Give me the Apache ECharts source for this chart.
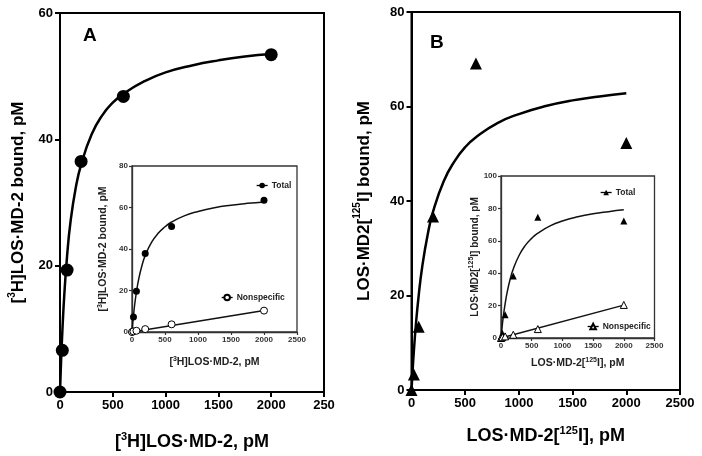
<!DOCTYPE html>
<html><head><meta charset="utf-8">
<script src="https://cdn.jsdelivr.net/npm/echarts@6/dist/echarts.min.js"></script>
<style>html,body{margin:0;padding:0;background:#fff}#c{width:702px;height:456px}</style>
</head><body><div id="c"></div>
<script>
// ---- Data ----
const conc = [0, 22, 67, 200, 600, 2000];
// Panel A main: specific binding
const boundA = [0, 6.6, 19.3, 36.5, 46.8, 53.4];
const fitX = [0, 10, 22, 40, 67, 100, 150, 200, 300, 400, 500, 600, 800, 1000, 1250, 1500, 1750, 2000];
const fitA = [0, 4.8, 9.5, 15.2, 21.5, 27.0, 32.4, 36.0, 40.8, 43.8, 45.8, 47.2, 49.2, 50.6, 51.7, 52.5, 53.1, 53.5];
// Panel B main: specific binding
const boundB = [0, 3.3, 13.4, 36.7, 69.1, 52.3];
const fitB = [0, 4.0, 8.2, 13.6, 20.0, 26.1, 32.8, 37.7, 44.2, 48.4, 51.4, 53.5, 56.5, 58.4, 60.1, 61.3, 62.1, 62.8];
// Inset A: total & nonspecific
const totalA = [0, 7.2, 19.6, 37.8, 50.8, 63.5];
const nonspecA = [0, 0.3, 0.6, 1.4, 3.7, 10.3];
const fitTotalA = [0, 3.8, 7.8, 13.0, 19.2, 25.2, 31.9, 36.8, 43.4, 47.7, 50.7, 53.0, 56.1, 58.1, 59.9, 61.1, 62.0, 62.7];
// Inset B: total & nonspecific
const totalB = [0, 3.0, 14.3, 38.3, 74.5, 72.2];
const nonspecB = [0, 0.5, 1.0, 2.0, 5.5, 20.4];
const fitTotalB = [0, 4.0, 8.3, 14.0, 21.1, 28.2, 36.4, 42.6, 51.4, 57.3, 61.5, 64.7, 69.2, 72.2, 74.8, 76.7, 78.0, 79.1];
// Nonspecific linear fits (end points)
const nsLineX = [0, 2000];
const nsLineA = [0, 10.4];
const nsLineB = [0, 20.3];
// Tick labels
const mainAXTicks = ['0', '500', '1000', '1500', '2000', '250'];
const xTicks = ['0', '500', '1000', '1500', '2000', '2500'];

const zip = (xs, ys) => xs.map((x, i) => [x, ys[i]]);
const FF = 'Liberation Sans, Arial, sans-serif';

function mainX(gi, name, gap, labels) {
  return {
    type: 'value', gridIndex: gi, min: 0, max: 2500, interval: 500,
    name: name, nameLocation: 'middle', nameGap: gap,
    nameTextStyle: {
      fontFamily: FF, color: '#000',
      rich: { t: { fontSize: 18, fontWeight: 'bold', fontFamily: FF, color: '#000', lineHeight: 20, verticalAlign: 'bottom' },
              s: { fontSize: 11, fontWeight: 'bold', fontFamily: FF, color: '#000', lineHeight: 20, verticalAlign: 'top' } }
    },
    axisLine: { show: true, onZero: false, lineStyle: { color: '#000', width: 2 } },
    axisTick: { show: true, length: 5, lineStyle: { color: '#000', width: 2 } },
    splitLine: { show: false },
    axisLabel: { fontFamily: FF, fontSize: 13, fontWeight: 'bold', color: '#000', margin: 7,
      formatter: (v) => labels[Math.round(v / 500)] }
  };
}
function mainY(gi, max, name, gap) {
  return {
    type: 'value', gridIndex: gi, min: 0, max: max, interval: 20,
    name: name, nameLocation: 'middle', nameGap: gap, nameRotate: 90,
    nameTextStyle: {
      fontFamily: FF, color: '#000',
      rich: { t: { fontSize: 17, fontWeight: 'bold', fontFamily: FF, color: '#000', lineHeight: 20, verticalAlign: 'bottom' },
              s: { fontSize: 10, fontWeight: 'bold', fontFamily: FF, color: '#000', lineHeight: 20, verticalAlign: 'top' } }
    },
    axisLine: { show: true, onZero: false, lineStyle: { color: '#000', width: 2 } },
    axisTick: { show: true, length: 5, lineStyle: { color: '#000', width: 2 } },
    splitLine: { show: false },
    axisLabel: { fontFamily: FF, fontSize: 13, fontWeight: 'bold', color: '#000', margin: 7 }
  };
}
function insetX(gi, name, gap) {
  return {
    type: 'value', gridIndex: gi, min: 0, max: 2500, interval: 500,
    name: name, nameLocation: 'middle', nameGap: gap,
    nameTextStyle: {
      fontFamily: FF, color: '#222',
      rich: { t: { fontSize: 10.5, fontWeight: 'bold', fontFamily: FF, color: '#222', lineHeight: 12, verticalAlign: 'bottom' },
              s: { fontSize: 7, fontWeight: 'bold', fontFamily: FF, color: '#222', lineHeight: 12, verticalAlign: 'top' } }
    },
    axisLine: { show: true, onZero: false, lineStyle: { color: '#333', width: 1.3 } },
    axisTick: { show: true, length: 3, lineStyle: { color: '#333', width: 1.2 } },
    splitLine: { show: false },
    axisLabel: { fontFamily: FF, fontSize: 8, fontWeight: 'bold', color: '#333', margin: 4,
      formatter: (v) => xTicks[Math.round(v / 500)] }
  };
}
function insetY(gi, max, name, gap, fs) {
  return {
    type: 'value', gridIndex: gi, min: 0, max: max, interval: 20,
    name: name, nameLocation: 'middle', nameGap: gap, nameRotate: 90,
    nameTextStyle: {
      fontFamily: FF, color: '#222',
      rich: { t: { fontSize: fs, fontWeight: 'bold', fontFamily: FF, color: '#222', lineHeight: 12, verticalAlign: 'bottom' },
              s: { fontSize: 7, fontWeight: 'bold', fontFamily: FF, color: '#222', lineHeight: 12, verticalAlign: 'top' } }
    },
    axisLine: { show: true, onZero: false, lineStyle: { color: '#333', width: 1.3 } },
    axisTick: { show: true, length: 3, lineStyle: { color: '#333', width: 1.2 } },
    splitLine: { show: false },
    axisLabel: { fontFamily: FF, fontSize: 8, fontWeight: 'bold', color: '#333', margin: 4 }
  };
}

function curve(name, xi, yi, data, w, color) {
  return { name: name, type: 'line', xAxisIndex: xi, yAxisIndex: yi, data: data, smooth: true,
    showSymbol: false, symbol: 'none', lineStyle: { color: color, width: w }, z: 3, silent: true };
}
function pts(name, xi, yi, data, sym, size, fill, stroke, bw) {
  return { name: name, type: 'line', xAxisIndex: xi, yAxisIndex: yi, data: data,
    symbol: sym, symbolSize: size, showSymbol: true, showAllSymbol: true,
    lineStyle: { width: 0, opacity: 0 },
    itemStyle: { color: fill, borderColor: stroke, borderWidth: bw, opacity: 1 }, z: 4, silent: true };
}
function legend(name, left, top) {
  return { show: true, left: left, top: top, padding: 0, itemWidth: 11, itemHeight: 7, itemGap: 0,
    selectedMode: false, data: [name],
    formatter: (n) => n.replace(/ \(.\)$/, ''),
    lineStyle: { color: '#000', width: 1.3, opacity: 1 },
    textStyle: { fontFamily: FF, fontSize: 8.5, fontWeight: 'bold', color: '#222', padding: [0, 0, 0, -1] } };
}

const chart = echarts.init(document.getElementById('c'), null, { renderer: 'canvas' });
chart.setOption({
  animation: false,
  backgroundColor: '#fff',
  grid: [
    { left: 60, top: 13, width: 264, height: 380, show: true, borderColor: '#000', borderWidth: 2, backgroundColor: 'transparent' },
    { left: 411.5, top: 12, width: 268.5, height: 378, show: true, borderColor: '#000', borderWidth: 2, backgroundColor: 'transparent' },
    { left: 132, top: 166, width: 165, height: 166, show: true, borderColor: '#333', borderWidth: 1.3, backgroundColor: '#fff' },
    { left: 501, top: 176, width: 153.5, height: 162, show: true, borderColor: '#333', borderWidth: 1.3, backgroundColor: '#fff' }
  ],
  xAxis: [
    mainX(0, '{t|[}{s|3}{t|H]LOS·MD-2, pM}', 39, mainAXTicks),
    mainX(1, '{t|LOS·MD-2[}{s|125}{t|I], pM}', 35, xTicks),
    insetX(2, '{t|[}{s|3}{t|H]LOS·MD-2, pM}', 24),
    insetX(3, '{t|LOS·MD-2[}{s|125}{t|I], pM}', 19)
  ],
  yAxis: [
    mainY(0, 60, '{t|[}{s|3}{t|H]LOS·MD-2 bound, pM}', 33),
    mainY(1, 80, '{t|LOS·MD2[}{s|125}{t|I] bound, pM}', 39),
    insetY(2, 80, '{t|[}{s|3}{t|H]LOS·MD-2 bound, pM}', 23, 10.5),
    insetY(3, 100, '{t|LOS·MD2[}{s|125}{t|I] bound, pM}', 17, 10)
  ],
  legend: [
    legend('Total (A)', 256, 181),
    legend('Nonspecific (A)', 221, 293),
    legend('Total (B)', 600, 188),
    legend('Nonspecific (B)', 587, 322)
  ],
  graphic: [
    { type: 'text', left: 83, top: 26, style: { text: 'A', font: 'bold 19px ' + FF, fill: '#000' } },
    { type: 'text', left: 430, top: 33, style: { text: 'B', font: 'bold 19px ' + FF, fill: '#000' } }
  ],
  series: [
    curve('fitA', 0, 0, zip(fitX, fitA), 2.5, '#000'),
    pts('Specific A', 0, 0, zip(conc, boundA), 'circle', 13, '#000', '#000', 0),
    curve('fitB', 1, 1, zip(fitX, fitB), 2.5, '#000'),
    pts('Specific B', 1, 1, zip(conc, boundB), 'triangle', 12, '#000', '#000', 0),

    curve('fitTotalA', 2, 2, zip(fitX, fitTotalA), 1.5, '#111'),
    curve('nsLineA', 2, 2, zip(nsLineX, nsLineA), 1.5, '#111'),
    pts('Total (A)', 2, 2, zip(conc, totalA), 'circle', 7, '#000', '#000', 0),
    pts('Nonspecific (A)', 2, 2, zip(conc, nonspecA), 'circle', 7, '#fff', '#000', 1),

    curve('fitTotalB', 3, 3, zip(fitX, fitTotalB), 1.5, '#111'),
    curve('nsLineB', 3, 3, zip(nsLineX, nsLineB), 1.5, '#111'),
    pts('Total (B)', 3, 3, zip(conc, totalB), 'triangle', 7, '#000', '#000', 0),
    pts('Nonspecific (B)', 3, 3, zip(conc, nonspecB), 'triangle', 7, '#fff', '#000', 1)
  ]
});
</script></body></html>
